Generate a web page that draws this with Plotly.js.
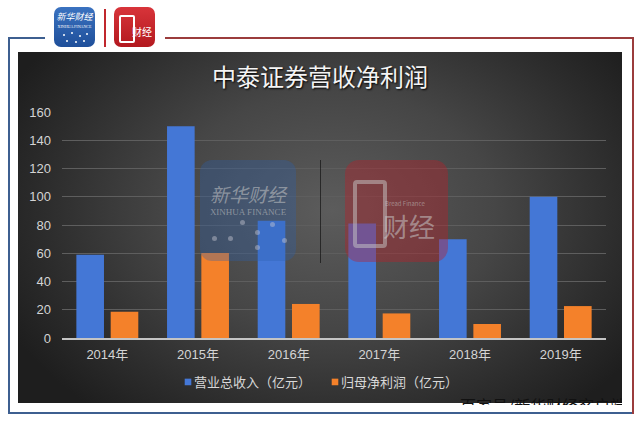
<!DOCTYPE html>
<html>
<head>
<meta charset="utf-8">
<script src="https://cdn.plot.ly/plotly-3.0.1.min.js"></script>
<style>
  html, body { margin:0; padding:0; background:#ffffff; }
  #wrap { position:relative; width:640px; height:422px; overflow:hidden; background:#fff; }
  #box { position:absolute; left:18px; top:52px; width:604px; height:351px;
    background: radial-gradient(ellipse 60% 75% at 52% 45%, #5c5c5c 0%, #464646 45%, #2c2c2c 80%, #1e1e1e 100%); }
  #chart { position:absolute; left:0; top:0; width:640px; height:422px; }
  .ln { position:absolute; }
  .ov { position:absolute; pointer-events:none; }
  .dot { position:absolute; width:5px; height:5px; border-radius:50%; background:rgba(200,200,210,0.45); }
  .sdot { position:absolute; width:2px; height:2px; border-radius:50%; background:#fff; }
</style>
</head>
<body>
<div id="wrap">
  <!-- outer frame -->
  <div class="ln" style="left:8px; top:37px; width:1.5px; height:377px; background:#3d5f90;"></div>
  <div class="ln" style="left:8px; top:412px; width:625px; height:1.5px; background:#3d5f90;"></div>
  <div class="ln" style="left:8px; top:37px; width:37px; height:1.5px; background:#3d5f90;"></div>
  <div class="ln" style="left:165px; top:37px; width:468px; height:1.5px; background:#9b3c3c;"></div>
  <div class="ln" style="left:632px; top:37px; width:1.5px; height:377px; background:#9b3c3c;"></div>
  <!-- top logos -->
  <div class="ov" style="left:54px; top:7px; width:41px; height:40px; border-radius:7px; background:linear-gradient(#3a72c0,#1f4f9a); color:#fff; text-align:center; font-family:'Noto Sans CJK SC'; overflow:hidden;">
    <div style="position:absolute; left:0; width:41px; top:4px; font-size:9px; font-style:italic; line-height:11px;">新华财经</div>
    <div style="position:absolute; left:0; width:41px; top:17px; font-size:4px; line-height:5px; font-family:'Liberation Serif';">XINHUA FINANCE</div>
    <div class="sdot" style="left:9px; top:27px;"></div>
    <div class="sdot" style="left:17px; top:25px;"></div>
    <div class="sdot" style="left:25px; top:28px;"></div>
    <div class="sdot" style="left:32px; top:26px;"></div>
    <div class="sdot" style="left:12px; top:33px;"></div>
    <div class="sdot" style="left:21px; top:34px;"></div>
    <div class="sdot" style="left:29px; top:33px;"></div>
  </div>
  <div class="ln" style="left:104px; top:9px; width:2px; height:38px; background:#c0272d;"></div>
  <div class="ov" style="left:114px; top:7px; width:41px; height:40px; border-radius:7px; background:linear-gradient(#d8343a,#b3191f); color:#fff; font-family:'Noto Sans CJK SC'; overflow:hidden;">
    <div style="position:absolute; left:5px; top:8px; width:12px; height:24px; border:2px solid #fff; border-radius:2px;"></div>
    <div style="position:absolute; left:18px; top:19px; font-size:10px; line-height:12px;">财经</div>
  </div>
  <div id="box"></div>
  <div id="chart"></div>
  <!-- center watermarks -->
  <div class="ov" style="left:200px; top:160px; width:96px; height:101px; border-radius:12px; background:rgba(45,95,175,0.32); text-align:center; font-family:'Noto Sans CJK SC'; color:rgba(200,200,200,0.55); overflow:hidden;">
    <div style="position:absolute; left:0; width:96px; top:22px; font-size:19px; font-style:italic; line-height:24px;">新华财经</div>
    <div style="position:absolute; left:0; width:96px; top:47px; font-size:9px; font-family:'Liberation Serif'; line-height:11px;">XINHUA FINANCE</div>
    <div class="dot" style="left:12px; top:76px;"></div>
    <div class="dot" style="left:28px; top:76px;"></div>
    <div class="dot" style="left:40px; top:60px;"></div>
    <div class="dot" style="left:55px; top:70px;"></div>
    <div class="dot" style="left:55px; top:85px;"></div>
    <div class="dot" style="left:70px; top:62px;"></div>
    <div class="dot" style="left:82px; top:78px;"></div>
  </div>
  <div class="ov" style="left:320px; top:160px; width:1px; height:103px; background:rgba(20,20,20,0.7);"></div>
  <div class="ov" style="left:345px; top:160px; width:103px; height:102px; border-radius:14px; background:rgba(190,30,40,0.38); font-family:'Noto Sans CJK SC'; color:rgba(200,200,200,0.55); overflow:hidden;">
    <div style="position:absolute; left:8px; top:20px; width:26px; height:60px; border:4px solid rgba(200,200,200,0.5); border-radius:4px;"></div>
    <div style="position:absolute; left:40px; top:40px; font-size:6px; line-height:7px;">Bread Finance</div>
    <div style="position:absolute; left:38px; top:52px; font-size:26px; line-height:28px;">财经</div>
  </div>
  <!-- bottom-right caption, clipped at box edge -->
  <div class="ov" style="left:460px; top:394px; width:162px; height:11px; overflow:hidden;">
    <div style="font-family:'Noto Sans CJK SC'; font-size:16px; line-height:22px; color:#111; white-space:nowrap;">百家号/新华财经客户端</div>
  </div>
</div>
<script>
const categories = ['2014年', '2015年', '2016年', '2017年', '2018年', '2019年'];
const revenue = [59, 150, 83, 81, 70, 100];
const netProfit = [18.6, 60.2, 24.1, 17.4, 9.9, 22.6];
const seriesNames = ['营业总收入（亿元）', '归母净利润（亿元）'];
const yTicks = [0, 20, 40, 60, 80, 100, 120, 140, 160];

const fontFam = "'Liberation Sans', 'Noto Sans CJK SC', sans-serif";

const traces = [
  { type: 'bar', name: seriesNames[0], x: categories, y: revenue,
    marker: { color: '#4477d6', line: { width: 0 } }, hoverinfo: 'skip',
    legendwidth: 102 },
  { type: 'bar', name: seriesNames[1], x: categories, y: netProfit,
    marker: { color: '#f4812a', line: { width: 0 } }, hoverinfo: 'skip' }
];

const layout = {
  width: 640, height: 422,
  margin: { l: 62, r: 34, t: 112, b: 84, pad: 0 },
  paper_bgcolor: 'rgba(0,0,0,0)',
  plot_bgcolor: 'rgba(0,0,0,0)',
  barmode: 'group',
  bargap: 0.243,
  bargroupgap: 0.195,
  title: {
    text: '中泰证券营收净利润',
    xref: 'container', yref: 'container',
    x: 0.5, xanchor: 'center', y: 1 - 78 / 422, yanchor: 'middle',
    font: { family: "'Noto Sans CJK SC', sans-serif", size: 24, color: '#f4f4f4', shadow: '1px 1px 2px #000' }
  },
  xaxis: {
    type: 'category',
    showgrid: false,
    showline: true, linecolor: '#c4c4c4', linewidth: 1.5,
    ticks: '', ticklabelstandoff: 4,
    tickfont: { family: fontFam, size: 13, color: '#d4d4d4' },
    fixedrange: true
  },
  yaxis: {
    range: [0, 160],
    tickvals: yTicks,
    ticktext: yTicks.map(String),
    showgrid: true, gridcolor: '#5e5e5e', gridwidth: 1,
    zeroline: false, showline: false,
    ticks: '', ticklabelstandoff: 10,
    tickfont: { family: fontFam, size: 13, color: '#d4d4d4' },
    fixedrange: true
  },
  showlegend: true,
  legend: {
    orientation: 'h',
    x: (154 - 62) / 544, xanchor: 'left',
    y: (338 - 382) / 226, yanchor: 'middle',
    font: { family: "'Noto Sans CJK SC', sans-serif", size: 13, color: '#d8d8d8' },
    bgcolor: 'rgba(0,0,0,0)',
    borderwidth: 0,
    itemwidth: 30,
    tracegroupgap: 0
  }
};

Plotly.newPlot('chart', traces, layout, { displayModeBar: false, staticPlot: true }).then(function (gd) {
  // shrink the legend swatches to the small squares used in the reference
  gd.querySelectorAll('.legend .legendpoints path').forEach(function (p) {
    var t = p.getAttribute('transform') || '';
    p.setAttribute('transform', t + ' translate(14,0) scale(0.55)');
  });
});
</script>
</body>
</html>
